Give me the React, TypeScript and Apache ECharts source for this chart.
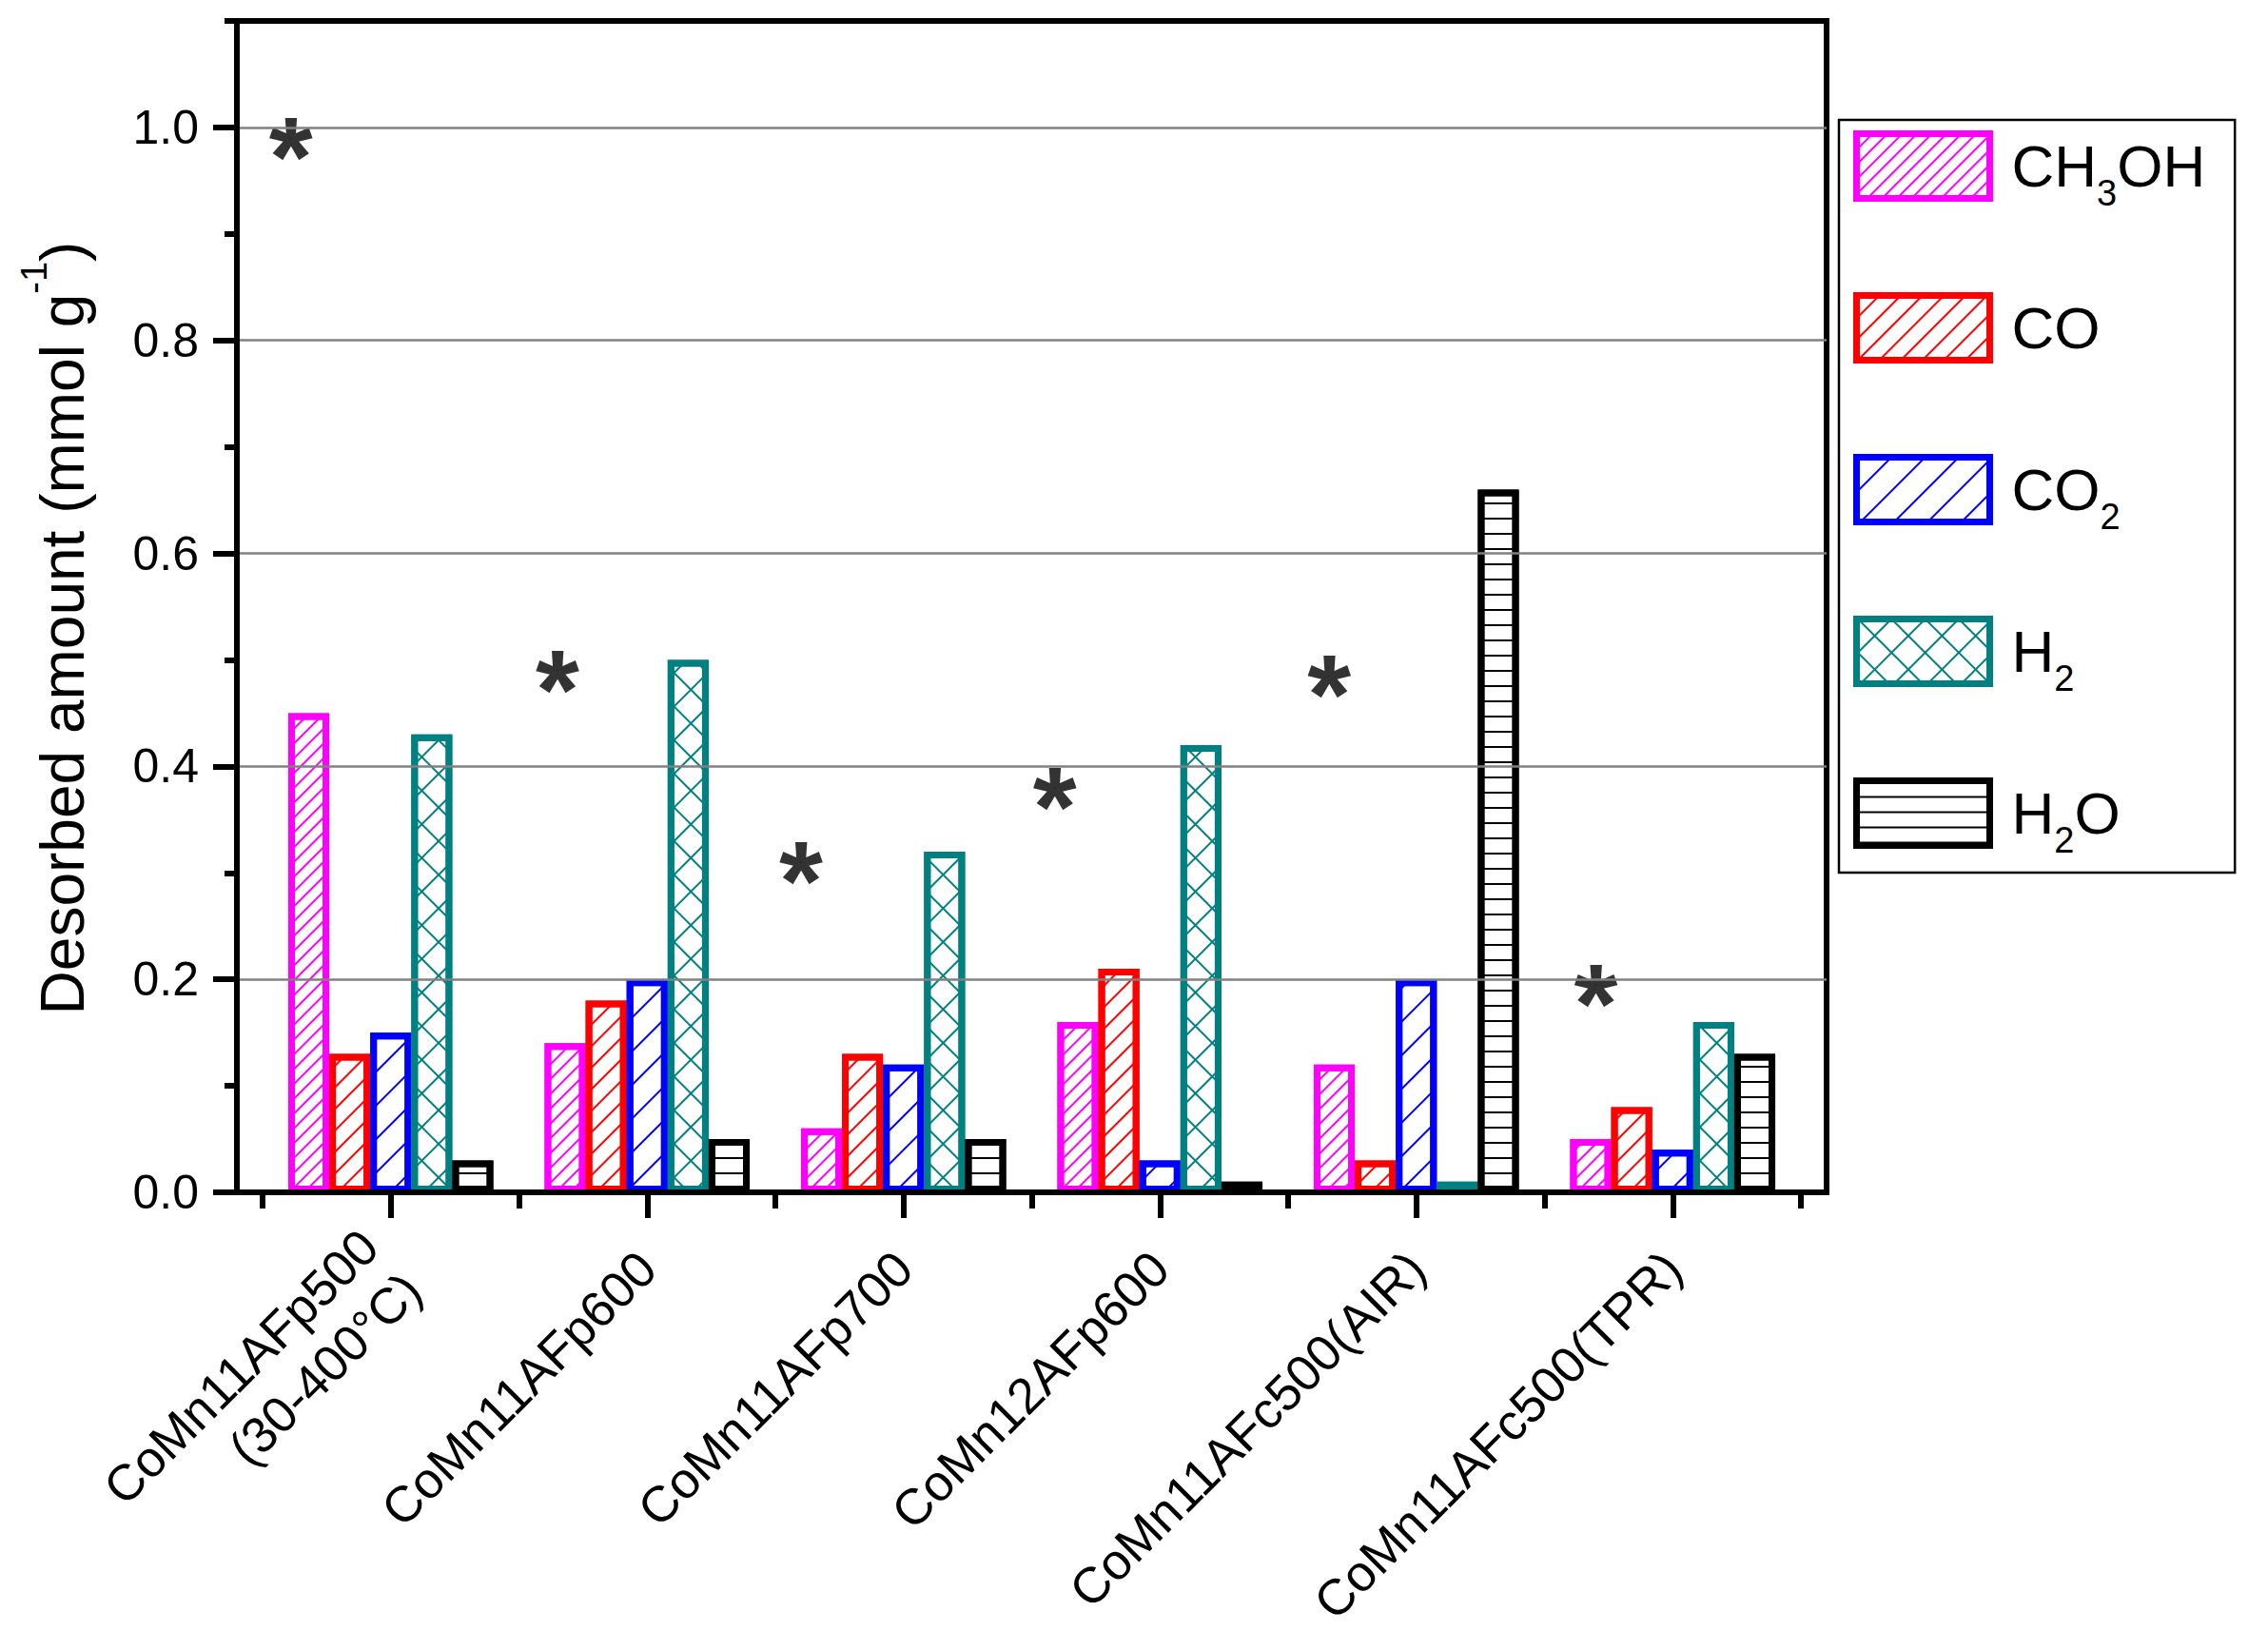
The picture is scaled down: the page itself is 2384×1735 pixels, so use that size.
import { useEffect, useRef } from 'react'
import * as echarts from 'echarts'

const categories = [
  'CoMn11AFp500\n(30-400°C)',
  'CoMn11AFp600',
  'CoMn11AFp700',
  'CoMn12AFp600',
  'CoMn11AFc500(AIR)',
  'CoMn11AFc500(TPR)'
]
const ch3oh = [0.45, 0.14, 0.06, 0.16, 0.12, 0.05]
const co = [0.13, 0.18, 0.13, 0.21, 0.03, 0.08]
const co2 = [0.15, 0.2, 0.12, 0.03, 0.2, 0.04]
const h2 = [0.43, 0.5, 0.32, 0.42, 0.01, 0.16]
const h2o = [0.03, 0.05, 0.05, 0.01, 0.66, 0.13]
// asterisk marks: x in category units (0 = first group centre), y in mmol/g
const starX = [-0.39, 0.65, 1.6, 2.59, 3.66, 4.7]
const starY = [0.99, 0.49, 0.31, 0.38, 0.485, 0.195]
const yTicks = [0, 0.2, 0.4, 0.6, 0.8, 1.0]

const FONT = 'Liberation Sans, Arial, sans-serif'

const legendText: Record<string, string> = {
  CH3OH: 'CH{sub|3}OH',
  CO: 'CO',
  CO2: 'CO{sub|2}',
  H2: 'H{sub|2}',
  H2O: 'H{sub|2}O'
}

function barSeries(name: string, data: number[], color: string, decal: any) {
  return {
    type: 'bar',
    name,
    data,
    xAxisIndex: 1,
    yAxisIndex: 2,
    barGap: '0%',
    barCategoryGap: '20%',
    itemStyle: {
      color: '#ffffff',
      borderColor: color,
      borderWidth: 7,
      decal: { symbol: 'rect', symbolSize: 1, color, ...decal }
    },
    emphasis: { disabled: true }
  }
}

export default function App() {
  const chartRef = useRef<HTMLDivElement>(null)

  useEffect(() => {
    if (!chartRef.current) return
    const chart = echarts.init(chartRef.current, null, { renderer: 'svg' })

    const diag = -Math.PI / 4

    const option = {
      animation: false,
      backgroundColor: '#ffffff',
      textStyle: { fontFamily: FONT, color: '#000' },
      grid: [
        { left: 249, top: 22, width: 1671, height: 1231, show: true, borderColor: '#000', borderWidth: 6 },
        { left: 276, top: 22, width: 1617, height: 1231 }
      ],
      legend: {
        orient: 'vertical',
        left: 1933,
        top: 126,
        padding: [1, 31, 15, 15],
        borderColor: '#000',
        borderWidth: 2.5,
        itemWidth: 140,
        itemHeight: 68,
        itemGap: 75,
        selectedMode: false,
        icon: 'rect',
        itemStyle: { borderWidth: 7 },
        data: ['CH3OH', 'CO', 'CO2', 'H2', 'H2O'],
        formatter: (name: string) => legendText[name] ?? name,
        textStyle: {
          fontSize: 62,
          fontFamily: FONT,
          color: '#000',
          lineHeight: 95,
          padding: [0, 0, 0, 18],
          rich: {
            sub: { fontSize: 38, fontFamily: FONT, color: '#000', padding: [57, 0, 0, 0] }
          }
        }
      },
      xAxis: [
        {
          // frame axis, used for the bottom line and the asterisks
          type: 'value',
          gridIndex: 0,
          min: -0.6,
          max: 5.6,
          position: 'bottom',
          z: 10,
          axisLine: { show: true, onZero: false, lineStyle: { color: '#000', width: 6 } },
          axisTick: { show: false },
          axisLabel: { show: false },
          splitLine: { show: false }
        },
        {
          type: 'category',
          gridIndex: 1,
          data: categories.map((c, i) =>
            i === 0 ? { value: c, textStyle: { padding: [64, 0, 0, 0] } } : c
          ),
          position: 'bottom',
          boundaryGap: true,
          axisLine: { show: false, onZero: false },
          axisTick: { show: true, length: 17, lineStyle: { color: '#000', width: 6 } },
          axisLabel: {
            interval: 0,
            rotate: 45,
            margin: 71,
            fontSize: 53,
            lineHeight: 64,
            fontFamily: FONT,
            color: '#000'
          }
        },
        {
          type: 'category',
          gridIndex: 1,
          data: categories,
          position: 'bottom',
          offset: 0,
          boundaryGap: true,
          axisLine: { show: false, onZero: false },
          axisTick: { show: true, alignWithLabel: true, length: 27, lineStyle: { color: '#000', width: 6 } },
          axisLabel: { show: false }
        }
      ],
      yAxis: [
        {
          type: 'value',
          gridIndex: 0,
          min: 0,
          max: 1.1,
          interval: 0.2,
          position: 'left',
          z: 10,
          name: 'Desorbed amount (mmol g{sup|-1})',
          nameLocation: 'middle',
          nameGap: 133,
          nameTextStyle: {
            fontSize: 64,
            fontFamily: FONT,
            color: '#000',
            lineHeight: 100,
            padding: [0, 45, 0, 0],
            rich: {
              sup: { fontSize: 38, fontFamily: FONT, color: '#000', padding: [0, 0, 60, 0] }
            }
          },
          axisLine: { show: true, onZero: false, lineStyle: { color: '#000', width: 6 } },
          axisTick: { show: true, length: 25, customValues: yTicks, lineStyle: { color: '#000', width: 6 } },
          axisLabel: {
            margin: 40,
            fontSize: 50,
            fontFamily: FONT,
            color: '#000',
            customValues: yTicks,
            formatter: (v: number) => (v > 1.05 ? '' : v.toFixed(1))
          },
          splitLine: { show: true, lineStyle: { color: '#808080', width: 2.5 } }
        },
        {
          // minor ticks
          type: 'value',
          gridIndex: 0,
          min: 0,
          max: 1.1,
          interval: 0.1,
          position: 'left',
          offset: 0,
          axisLine: { show: false, onZero: false },
          axisTick: { show: true, length: 13, lineStyle: { color: '#000', width: 6 } },
          axisLabel: { show: false },
          splitLine: { show: false }
        },
        {
          type: 'value',
          gridIndex: 1,
          min: 0,
          max: 1.1,
          show: false
        }
      ],
      series: [
        barSeries('CH3OH', ch3oh, '#ff00ff', { dashArrayX: [1, 0], dashArrayY: [2, 9], rotation: diag }),
        barSeries('CO', co, '#ff0000', { dashArrayX: [1, 0], dashArrayY: [2, 14], rotation: diag }),
        barSeries('CO2', co2, '#0000ff', { dashArrayX: [1, 0], dashArrayY: [2, 23], rotation: diag }),
        barSeries('H2', h2, '#008080', {
          dashArrayX: [[1, 0], [2, 23]],
          dashArrayY: [2, 0, 23, 0],
          rotation: diag
        }),
        barSeries('H2O', h2o, '#000000', { dashArrayX: [1, 0], dashArrayY: [2, 14], rotation: 0 }),
        {
          type: 'scatter',
          xAxisIndex: 0,
          yAxisIndex: 0,
          data: starX.map((x, i) => [x, starY[i]]),
          symbol: 'circle',
          symbolSize: 1,
          itemStyle: { color: '#000' },
          silent: true,
          label: {
            show: true,
            position: 'inside',
            formatter: '*',
            fontSize: 118,
            fontWeight: 'bold',
            fontFamily: FONT,
            color: '#000',
            textBorderWidth: 0,
            offset: [0, 20]
          },
          z: 5
        }
      ]
    }

    chart.setOption(option as any)

    return () => {
      chart.dispose()
    }
  }, [])

  return (
    <div
      ref={chartRef}
      style={{ position: 'absolute', left: 0, top: 0, width: '2384px', height: '1735px' }}
    />
  )
}
